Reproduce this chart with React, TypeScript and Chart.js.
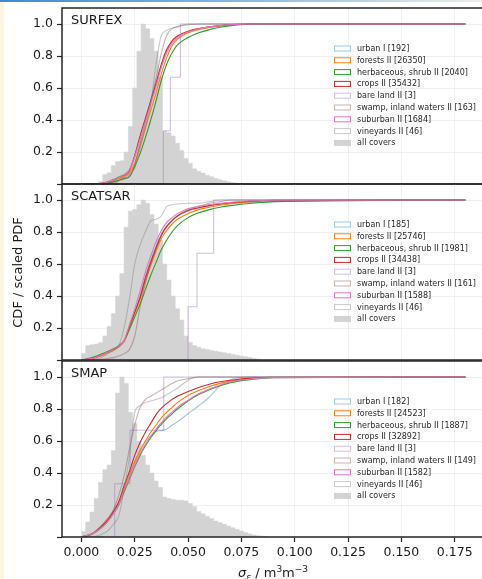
import React, { useEffect, useRef } from 'react';
import { Chart, registerables } from 'chart.js';

Chart.register(...registerables);

const FONT = 'DejaVu Sans';
Chart.defaults.font.family = FONT;

const TEXT_COLOR = '#1c1c1c';
const SPINE_COLOR = '#262626';
const GRID_COLOR = '#ebebeb';
const HIST_COLOR = '#d3d3d3';

const X_MIN = -0.0091;
const X_MAX = 0.1878;
const Y_MIN = 0;
const Y_MAX = 1.1;
const X_TICKS = [0, 0.025, 0.05, 0.075, 0.1, 0.125, 0.15, 0.175];
const Y_TICKS = [0, 0.2, 0.4, 0.6, 0.8, 1.0];

// sigma positions where the CDF curves were read
const SIGMA_GRID = [0, 0.005, 0.01, 0.0125, 0.015, 0.0175, 0.02, 0.0225, 0.025, 0.0275, 0.03, 0.0325, 0.035, 0.0375, 0.04, 0.0425, 0.045, 0.05, 0.055, 0.06, 0.065, 0.07, 0.08, 0.09, 0.18];
const BIN_WIDTH = 0.002;
const BARE_LAND_CDF = [0, 0.333, 0.667, 1, 1];
const CDF_END = 0.18;

const COVER_NAMES = ['urban I', 'forests II', 'herbaceous, shrub II', 'crops II', 'bare land II', 'swamp, inland waters II', 'suburban II', 'vineyards II'];
const COVER_COLORS = ['rgba(31,119,180,0.42)', '#ff7f0e', '#2ca02c', '#d62728', 'rgba(148,103,189,0.42)', 'rgba(140,86,75,0.45)', '#e377c2', 'rgba(127,127,127,0.42)'];
const BARE_INDEX = 4;
const ALL_COVERS_LABEL = 'all covers';

// ---------------- SURFEX ----------------
const SURFEX_COUNTS = [192, 26350, 2040, 35432, 3, 163, 1684, 46];
const SURFEX_HIST = [0, 0, 0, 0, 0.015, 0.06, 0.07, 0.115, 0.14, 0.145, 0.2, 0.36, 0.6, 0.83, 1.0, 0.97, 0.91, 0.83, 0.67, 0.33, 0.32, 0.3, 0.255, 0.21, 0.16, 0.13, 0.095, 0.08, 0.068, 0.055, 0.045, 0.035, 0.027, 0.02, 0.014, 0.009, 0.005, 0.002];
const SURFEX_URBAN = [0, 0, 0.006, 0.015, 0.03, 0.045, 0.06, 0.085, 0.17, 0.29, 0.4, 0.52, 0.63, 0.74, 0.83, 0.89, 0.92, 0.95, 0.97, 0.98, 0.99, 0.995, 1, 1, 1];
const SURFEX_FORESTS = [0, 0, 0.004, 0.01, 0.02, 0.033, 0.047, 0.07, 0.13, 0.24, 0.35, 0.46, 0.57, 0.69, 0.79, 0.865, 0.905, 0.945, 0.965, 0.978, 0.988, 0.995, 1, 1, 1];
const SURFEX_HERB = [0, 0, 0.003, 0.007, 0.014, 0.024, 0.035, 0.045, 0.11, 0.19, 0.29, 0.4, 0.52, 0.65, 0.75, 0.82, 0.87, 0.915, 0.945, 0.965, 0.98, 0.99, 0.998, 1, 1];
const SURFEX_CROPS = [0, 0, 0.005, 0.012, 0.025, 0.04, 0.055, 0.085, 0.18, 0.3, 0.41, 0.52, 0.63, 0.75, 0.84, 0.895, 0.925, 0.955, 0.972, 0.983, 0.99, 0.996, 1, 1, 1];
const SURFEX_SWAMP = [0, 0, 0, 0.005, 0.01, 0.02, 0.03, 0.05, 0.12, 0.25, 0.38, 0.52, 0.66, 0.82, 0.93, 0.97, 0.985, 0.995, 1, 1, 1, 1, 1, 1, 1];
const SURFEX_SUBURBAN = [0, 0, 0.005, 0.012, 0.025, 0.04, 0.057, 0.09, 0.17, 0.28, 0.39, 0.5, 0.61, 0.73, 0.82, 0.88, 0.915, 0.95, 0.97, 0.982, 0.99, 0.996, 1, 1, 1];
const SURFEX_VINEYARDS = [0, 0, 0, 0, 0, 0.02, 0.04, 0.06, 0.1, 0.22, 0.35, 0.5, 0.75, 0.93, 0.96, 0.975, 0.98, 1, 1, 1, 1, 1, 1, 1, 1];
const SURFEX_BARE_STEPS = [0.0384, 0.0417, 0.0464];

// ---------------- SCATSAR ----------------
const SCATSAR_COUNTS = [185, 25746, 1981, 34438, 3, 161, 1588, 46];
const SCATSAR_HIST = [0.04, 0.09, 0.095, 0.1, 0.11, 0.15, 0.21, 0.29, 0.4, 0.54, 0.83, 0.93, 0.94, 0.97, 1.0, 0.98, 0.91, 0.85, 0.75, 0.6, 0.5, 0.4, 0.32, 0.25, 0.15, 0.11, 0.09, 0.08, 0.07, 0.065, 0.06, 0.055, 0.05, 0.045, 0.04, 0.035, 0.03, 0.025, 0.02, 0.015, 0.01, 0.005];
const SCATSAR_URBAN = [0, 0.01, 0.033, 0.048, 0.063, 0.083, 0.115, 0.2, 0.3, 0.4, 0.52, 0.62, 0.71, 0.79, 0.84, 0.875, 0.9, 0.93, 0.95, 0.963, 0.973, 0.98, 0.985, 0.99, 1];
const SCATSAR_FORESTS = [0, 0.008, 0.03, 0.045, 0.06, 0.08, 0.115, 0.2, 0.29, 0.38, 0.49, 0.59, 0.68, 0.76, 0.81, 0.85, 0.88, 0.915, 0.94, 0.955, 0.967, 0.977, 0.99, 0.996, 1];
const SCATSAR_HERB = [0, 0.015, 0.04, 0.055, 0.07, 0.09, 0.12, 0.19, 0.27, 0.35, 0.44, 0.53, 0.61, 0.69, 0.75, 0.8, 0.84, 0.89, 0.92, 0.94, 0.955, 0.965, 0.98, 0.99, 1];
const SCATSAR_CROPS = [0, 0.01, 0.035, 0.05, 0.065, 0.085, 0.12, 0.21, 0.3, 0.39, 0.51, 0.61, 0.7, 0.78, 0.835, 0.87, 0.9, 0.935, 0.952, 0.965, 0.975, 0.983, 0.993, 0.998, 1];
const SCATSAR_SWAMP = [0, 0, 0.005, 0.01, 0.015, 0.025, 0.04, 0.065, 0.15, 0.33, 0.48, 0.6, 0.7, 0.78, 0.83, 0.87, 0.9, 0.94, 0.96, 0.98, 0.99, 1, 1, 1, 1];
const SCATSAR_SUBURBAN = [0, 0.01, 0.035, 0.05, 0.065, 0.085, 0.12, 0.22, 0.32, 0.43, 0.55, 0.65, 0.74, 0.81, 0.86, 0.89, 0.915, 0.945, 0.96, 0.972, 0.98, 0.986, 0.995, 0.998, 1];
const SCATSAR_VINEYARDS = [0, 0, 0.02, 0.04, 0.06, 0.09, 0.2, 0.38, 0.6, 0.72, 0.8, 0.87, 0.88, 0.9, 0.96, 0.97, 0.975, 0.98, 0.98, 0.99, 1, 1, 1, 1, 1];
const SCATSAR_BARE_STEPS = [0.05, 0.0542, 0.062];

// ---------------- SMAP ----------------
const SMAP_COUNTS = [182, 24523, 1887, 32892, 3, 149, 1582, 46];
const SMAP_HIST = [0.035, 0.094, 0.156, 0.24, 0.34, 0.42, 0.45, 0.54, 0.9, 1.0, 0.96, 0.78, 0.71, 0.6, 0.51, 0.45, 0.4, 0.35, 0.31, 0.25, 0.24, 0.235, 0.23, 0.23, 0.225, 0.21, 0.19, 0.16, 0.145, 0.13, 0.115, 0.1, 0.09, 0.08, 0.068, 0.058, 0.048, 0.037, 0.027, 0.019, 0.012, 0.008, 0.005, 0.003];
const SMAP_URBAN = [0, 0.015, 0.065, 0.1, 0.15, 0.2, 0.29, 0.38, 0.47, 0.54, 0.6, 0.63, 0.66, 0.665, 0.675, 0.7, 0.72, 0.77, 0.82, 0.875, 0.945, 0.985, 1, 1, 1];
const SMAP_FORESTS = [0, 0.02, 0.07, 0.105, 0.15, 0.21, 0.3, 0.39, 0.47, 0.54, 0.6, 0.655, 0.7, 0.745, 0.78, 0.81, 0.84, 0.885, 0.915, 0.94, 0.96, 0.975, 0.99, 0.997, 1];
const SMAP_HERB = [0, 0.02, 0.065, 0.1, 0.145, 0.2, 0.28, 0.36, 0.44, 0.51, 0.57, 0.62, 0.665, 0.705, 0.74, 0.77, 0.8, 0.85, 0.89, 0.92, 0.945, 0.965, 0.985, 0.995, 1];
const SMAP_CROPS = [0, 0.02, 0.075, 0.11, 0.16, 0.22, 0.32, 0.41, 0.51, 0.59, 0.655, 0.71, 0.765, 0.805, 0.835, 0.86, 0.88, 0.91, 0.935, 0.955, 0.97, 0.98, 0.993, 0.998, 1];
const SMAP_SWAMP = [0, 0.02, 0.08, 0.12, 0.17, 0.26, 0.38, 0.55, 0.7, 0.81, 0.86, 0.88, 0.9, 0.92, 0.94, 0.96, 0.975, 0.99, 1, 1, 1, 1, 1, 1, 1];
const SMAP_SUBURBAN = [0, 0.02, 0.065, 0.1, 0.145, 0.2, 0.29, 0.37, 0.45, 0.52, 0.58, 0.63, 0.675, 0.715, 0.75, 0.78, 0.81, 0.855, 0.895, 0.925, 0.95, 0.97, 0.988, 0.996, 1];
const SMAP_VINEYARDS = [0, 0, 0.02, 0.04, 0.08, 0.13, 0.3, 0.5, 0.78, 0.82, 0.84, 0.85, 0.86, 0.87, 0.89, 0.91, 0.93, 0.98, 1, 1, 1, 1, 1, 1, 1];
const SMAP_BARE_STEPS = [0.0156, 0.0228, 0.0386];

const PANELS = [
  {
    name: 'SURFEX', counts: SURFEX_COUNTS, hist: SURFEX_HIST, bareSteps: SURFEX_BARE_STEPS,
    cdfs: [SURFEX_URBAN, SURFEX_FORESTS, SURFEX_HERB, SURFEX_CROPS, null, SURFEX_SWAMP, SURFEX_SUBURBAN, SURFEX_VINEYARDS],
  },
  {
    name: 'SCATSAR', counts: SCATSAR_COUNTS, hist: SCATSAR_HIST, bareSteps: SCATSAR_BARE_STEPS,
    cdfs: [SCATSAR_URBAN, SCATSAR_FORESTS, SCATSAR_HERB, SCATSAR_CROPS, null, SCATSAR_SWAMP, SCATSAR_SUBURBAN, SCATSAR_VINEYARDS],
  },
  {
    name: 'SMAP', counts: SMAP_COUNTS, hist: SMAP_HIST, bareSteps: SMAP_BARE_STEPS,
    cdfs: [SMAP_URBAN, SMAP_FORESTS, SMAP_HERB, SMAP_CROPS, null, SMAP_SWAMP, SMAP_SUBURBAN, SMAP_VINEYARDS],
  },
];

// canvas placement of each panel
const LAYOUT = [
  { top: 0, height: 186, padTop: 8, padBottom: 2, xAxisHeight: 0 },
  { top: 182, height: 180, padTop: 2, padBottom: 2, xAxisHeight: 0 },
  { top: 359, height: 220, padTop: 2, padBottom: 0, xAxisHeight: 42 },
];

function makeDecor(panel: any, idx: number) {
  return {
    id: 'panelDecor' + idx,
    afterDraw(chart: any) {
      const ctx = chart.ctx;
      const a = chart.chartArea;
      ctx.save();
      // spines
      ctx.strokeStyle = SPINE_COLOR;
      ctx.lineWidth = 1.5;
      ctx.beginPath();
      ctx.moveTo(a.left, a.top);
      ctx.lineTo(a.right, a.top);
      ctx.moveTo(a.left, a.top - 0.75);
      ctx.lineTo(a.left, a.bottom + 0.75);
      ctx.moveTo(a.left, a.bottom);
      ctx.lineTo(a.right, a.bottom);
      ctx.stroke();

      // panel title
      ctx.fillStyle = TEXT_COLOR;
      ctx.font = `13px "${FONT}"`;
      ctx.textAlign = 'left';
      ctx.textBaseline = 'middle';
      ctx.fillText(panel.name, a.left + 9, a.top + 13);

      // legend
      const lx = a.left + 272;
      let ly = a.top + 40.5;
      ctx.font = `8px "${FONT}"`;
      const labels = COVER_NAMES.map((n, i) => `${n} [${panel.counts[i]}]`);
      labels.forEach((lab, i) => {
        ctx.strokeStyle = COVER_COLORS[i];
        ctx.lineWidth = 1;
        ctx.fillStyle = '#ffffff';
        ctx.fillRect(lx, ly - 3, 17, 6);
        ctx.strokeRect(lx + 0.5, ly - 2.5, 16, 5);
        ctx.fillStyle = '#2a2a2a';
        ctx.fillText(lab, lx + 23, ly + 0.5);
        ly += 11.8;
      });
      ctx.fillStyle = HIST_COLOR;
      ctx.fillRect(lx, ly - 3, 17, 6);
      ctx.fillStyle = '#2a2a2a';
      ctx.fillText(ALL_COVERS_LABEL, lx + 23, ly + 0.5);

      // shared y-axis title on middle panel
      if (idx === 1) {
        ctx.save();
        ctx.translate(19, 90.5);
        ctx.rotate(-Math.PI / 2);
        ctx.font = `13px "${FONT}"`;
        ctx.fillStyle = TEXT_COLOR;
        ctx.textAlign = 'center';
        ctx.textBaseline = 'middle';
        ctx.fillText('CDF / scaled PDF', 0, 0);
        ctx.restore();
      }

      // x-axis title on bottom panel
      if (idx === 2) {
        const parts = [
          { t: 'σ', f: `italic 13px "${FONT}"`, dy: 0 },
          { t: 'ε', f: `italic 9px "${FONT}"`, dy: 2.5 },
          { t: ' / m', f: `13px "${FONT}"`, dy: 0 },
          { t: '3', f: `9px "${FONT}"`, dy: -5 },
          { t: 'm', f: `13px "${FONT}"`, dy: 0 },
          { t: '−3', f: `9px "${FONT}"`, dy: -5 },
        ];
        let total = 0;
        parts.forEach(p => { ctx.font = p.f; total += ctx.measureText(p.t).width; });
        let x = 273 - total / 2;
        const base = 218;
        ctx.textAlign = 'left';
        ctx.textBaseline = 'alphabetic';
        ctx.fillStyle = TEXT_COLOR;
        parts.forEach(p => {
          ctx.font = p.f;
          ctx.fillText(p.t, x, base + p.dy);
          x += ctx.measureText(p.t).width;
        });
      }
      ctx.restore();
    },
  };
}

function buildConfig(panel: any, idx: number): any {
  const lay = LAYOUT[idx];
  const isBottom = idx === PANELS.length - 1;

  const lineDatasets = COVER_NAMES.map((name, i) => {
    const isBare = i === BARE_INDEX;
    const xs = isBare ? [0, ...panel.bareSteps, CDF_END] : SIGMA_GRID;
    const ys = isBare ? BARE_LAND_CDF : panel.cdfs[i];
    return {
      type: 'line',
      label: `${name} [${panel.counts[i]}]`,
      data: xs.map((x: number, j: number) => ({ x, y: ys[j] })),
      borderColor: COVER_COLORS[i],
      backgroundColor: 'transparent',
      borderWidth: 1.1,
      pointRadius: 0,
      fill: false,
      stepped: isBare ? 'before' : false,
      cubicInterpolationMode: isBare ? 'default' : 'monotone',
      order: COVER_NAMES.length - i,
    };
  });

  const histData = panel.hist.map((h: number, k: number) => ({ x: k * BIN_WIDTH, y: h }));
  histData.push({ x: panel.hist.length * BIN_WIDTH, y: 0 });
  const histDataset = {
    type: 'line',
    label: ALL_COVERS_LABEL,
    data: histData,
    stepped: 'before',
    fill: 'origin',
    backgroundColor: HIST_COLOR,
    borderColor: HIST_COLOR,
    borderWidth: 0.5,
    pointRadius: 0,
    order: 50,
  };

  const tickFont = { family: FONT, size: 12.5 };

  return {
    type: 'line',
    data: { datasets: [...lineDatasets, histDataset] },
    options: {
      responsive: false,
      animation: false,
      devicePixelRatio: 1,
      events: [],
      layout: { padding: { top: lay.padTop, bottom: lay.padBottom, left: 0, right: 0 } },
      plugins: { legend: { display: false }, tooltip: { enabled: false } },
      scales: {
        x: {
          type: 'linear',
          min: X_MIN,
          max: X_MAX,
          afterBuildTicks: (s: any) => { s.ticks = X_TICKS.map(v => ({ value: v })); },
          afterFit: (s: any) => { s.height = lay.xAxisHeight; s.paddingLeft = 0; s.paddingRight = 0; },
          grid: { color: GRID_COLOR, lineWidth: 0.8, drawTicks: isBottom, tickLength: 5, tickColor: SPINE_COLOR, tickWidth: 1.2 },
          border: { display: false },
          ticks: {
            display: isBottom,
            font: tickFont,
            color: TEXT_COLOR,
            padding: 3,
            maxRotation: 0,
            autoSkip: false,
            callback: (v: any) => Number(v).toFixed(3),
          },
        },
        y: {
          type: 'linear',
          min: Y_MIN,
          max: Y_MAX,
          afterBuildTicks: (s: any) => { s.ticks = Y_TICKS.map(v => ({ value: v })); },
          afterFit: (s: any) => { s.width = 62; s.paddingTop = 0; s.paddingBottom = 0; },
          grid: { color: GRID_COLOR, lineWidth: 0.8, drawTicks: true, tickLength: 5, tickColor: SPINE_COLOR, tickWidth: 1.2 },
          border: { display: false },
          ticks: {
            font: tickFont,
            color: TEXT_COLOR,
            padding: 4,
            autoSkip: false,
            callback: (v: any) => (Number(v) === 0 ? '' : Number(v).toFixed(1)),
          },
        },
      },
    },
    plugins: [makeDecor(panel, idx)],
  };
}

export default function App() {
  const ref0 = useRef<HTMLCanvasElement>(null);
  const ref1 = useRef<HTMLCanvasElement>(null);
  const ref2 = useRef<HTMLCanvasElement>(null);
  const refs = [ref0, ref1, ref2];

  useEffect(() => {
    const charts = PANELS.map((p, i) => new Chart(refs[i].current as HTMLCanvasElement, buildConfig(p, i)));
    return () => charts.forEach(c => c.destroy());
  }, []);

  return (
    <div style={{ position: 'fixed', left: 0, top: 0, width: 482, height: 579, background: '#ffffff', overflow: 'hidden' }}>
      <div style={{ position: 'absolute', left: 0, top: 0, width: 4, height: 579, background: '#fcf5e2' }} />
      <div style={{ position: 'absolute', left: 0, top: 0, width: 482, height: 2, background: 'linear-gradient(to right, #3d8ad2, #8fbde3 55%, #eef0e6)' }} />
      {LAYOUT.map((l, i) => (
        <canvas
          key={i}
          ref={refs[i]}
          width={482}
          height={l.height}
          style={{ position: 'absolute', left: 0, top: l.top, width: 482, height: l.height }}
        />
      ))}
    </div>
  );
}
